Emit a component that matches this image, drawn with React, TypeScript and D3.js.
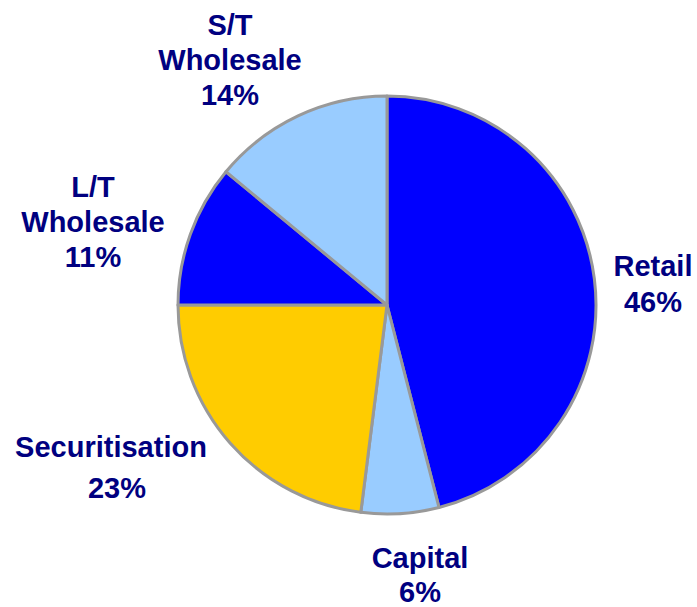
import React from "react";
import * as d3 from "d3";

const categories = ["Retail", "Capital", "Securitisation", "L/T Wholesale", "S/T Wholesale"];
const values = [46, 6, 23, 11, 14];
const colors = ["#0000FF", "#99CCFF", "#FFCC00", "#0000FF", "#99CCFF"];
const labelLines = [
  ["Retail", "46%"],
  ["Capital", "6%"],
  ["Securitisation", "23%"],
  ["L/T", "Wholesale", "11%"],
  ["S/T", "Wholesale", "14%"],
];

const W = 697;
const H = 607;
const CX = 387;
const CY = 305;
const R = 209;
// label layout: anchor x, first baseline y, line spacing, x shift of last line
const labelLayout = [
  { x: 653, y: 276, gap: 36, lastDx: 0 },
  { x: 420, y: 568, gap: 34, lastDx: 0 },
  { x: 111, y: 457, gap: 41, lastDx: 6 },
  { x: 93, y: 197, gap: 35, lastDx: 0 },
  { x: 230, y: 35, gap: 35, lastDx: 0 },
];

export default function App() {
  const pie = d3.pie<number>().sort(null).value((d) => d);
  const arcs = pie(values);
  const arc = d3.arc<d3.PieArcDatum<number>>().innerRadius(0).outerRadius(R);
  return (
    <svg width={W} height={H} style={{ position: "absolute", left: 0, top: 0 }}>
      <g transform={`translate(${CX},${CY})`}>
        {arcs.map((a, i) => (
          <path key={categories[i]} d={arc(a) || ""} fill={colors[i]} stroke="#999999" strokeWidth={3} strokeLinejoin="round" />
        ))}
      </g>
      {labelLines.map((lines, i) => (
        <text
          key={categories[i]}
          textAnchor="middle"
          fontFamily="'Liberation Sans', Arial, sans-serif"
          fontWeight="bold"
          fontSize={29}
          fill="#000080"
        >
          {lines.map((t, j) => (
            <tspan
              key={j}
              x={labelLayout[i].x + (j === lines.length - 1 ? labelLayout[i].lastDx : 0)}
              y={labelLayout[i].y + j * labelLayout[i].gap}
            >
              {t}
            </tspan>
          ))}
        </text>
      ))}
    </svg>
  );
}
